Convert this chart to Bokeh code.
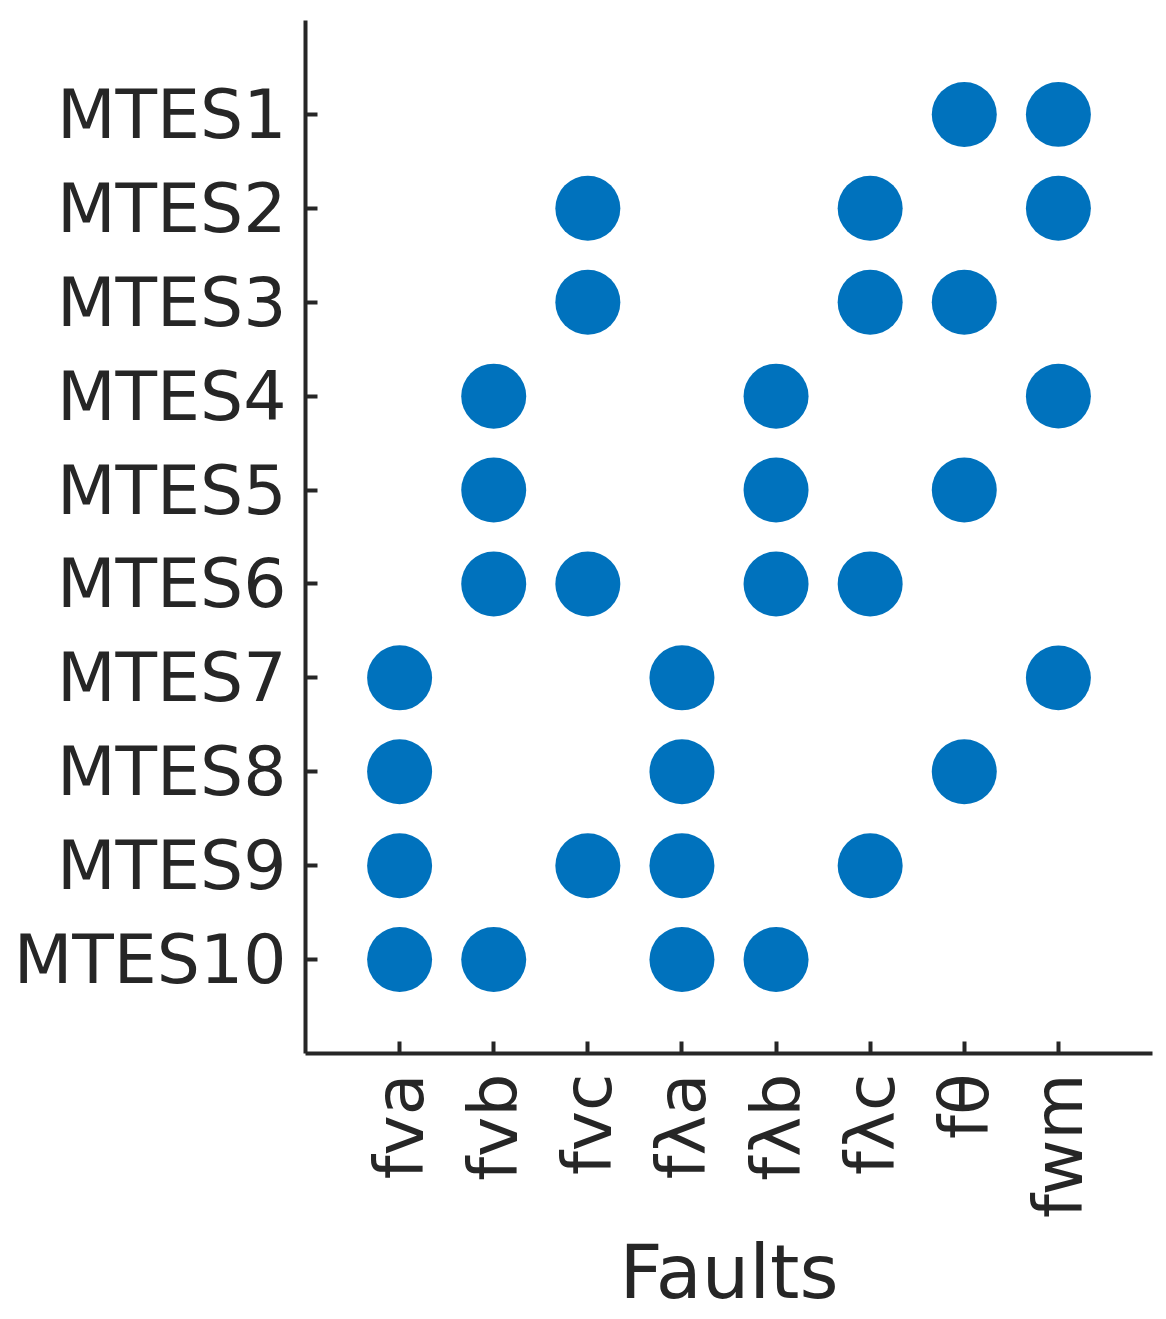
import math
from bokeh.plotting import figure
from bokeh.models import Range1d, FixedTicker
from bokeh.embed import file_html
from bokeh.resources import INLINE

faults = ["fva", "fvb", "fvc", "fλa", "fλb", "fλc", "fθ", "fwm"]
tests = ["MTES1", "MTES2", "MTES3", "MTES4", "MTES5",
         "MTES6", "MTES7", "MTES8", "MTES9", "MTES10"]
detects = {
    "MTES1": ["fθ", "fwm"],
    "MTES2": ["fvc", "fλc", "fwm"],
    "MTES3": ["fvc", "fλc", "fθ"],
    "MTES4": ["fvb", "fλb", "fwm"],
    "MTES5": ["fvb", "fλb", "fθ"],
    "MTES6": ["fvb", "fvc", "fλb", "fλc"],
    "MTES7": ["fva", "fλa", "fwm"],
    "MTES8": ["fva", "fλa", "fθ"],
    "MTES9": ["fva", "fvc", "fλa", "fλc"],
    "MTES10": ["fva", "fvb", "fλa", "fλb"],
}

n_t = len(tests)
xs, ys = [], []
for t in tests:
    for f in detects[t]:
        xs.append(faults.index(f) + 1)
        ys.append(n_t - tests.index(t))

FONT = "DejaVu Sans"
TXT = "#262626"

p = figure(width=1158, height=1319, output_backend="svg", toolbar_location=None,
           x_range=Range1d(0, len(faults) + 1), y_range=Range1d(0, n_t + 1),
           min_border_left=305, min_border_right=6, min_border_top=20,
           min_border_bottom=266)
p.outline_line_color = None
p.grid.visible = False
p.background_fill_color = "white"
p.border_fill_color = "white"

p.scatter(xs, ys, size=65, marker="circle", fill_color="#0072BD", line_color=None)

xa = p.xaxis[0]
xa.ticker = FixedTicker(ticks=list(range(1, len(faults) + 1)))
xa.major_label_overrides = {i + 1: f for i, f in enumerate(faults)}
xa.major_label_orientation = math.pi / 2
xa.axis_label = "Faults"

ya = p.yaxis[0]
ya.ticker = FixedTicker(ticks=list(range(1, n_t + 1)))
ya.major_label_overrides = {n_t - i: t for i, t in enumerate(tests)}

for ax in (xa, ya):
    ax.axis_line_width = 4
    ax.axis_line_color = TXT
    ax.major_tick_line_width = 4
    ax.major_tick_line_color = TXT
    ax.major_tick_in = 12
    ax.major_tick_out = 0
    ax.minor_tick_line_color = None
    ax.major_label_text_font = FONT
    ax.major_label_text_font_size = "68px"
    ax.major_label_text_color = TXT
    ax.axis_label_text_font = FONT
    ax.axis_label_text_font_size = "75px"
    ax.axis_label_text_font_style = "normal"
    ax.axis_label_text_color = TXT

ya.major_label_standoff = 19
xa.major_label_standoff = 20
xa.axis_label_standoff = 7

open("out.html", "w").write(file_html(p, INLINE))
